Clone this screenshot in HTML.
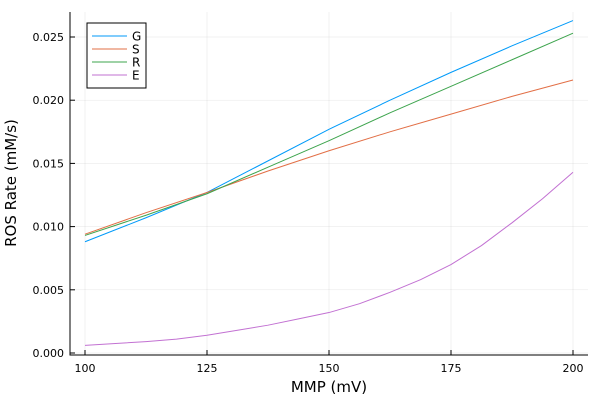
<!DOCTYPE html>
<html><head><meta charset="utf-8"><style>
body{margin:0;background:#fff}
svg text{font-family:"DejaVu Sans","Liberation Sans",sans-serif}
</style></head><body>
<svg id="c" width="600" height="400"></svg>
<script>
const xs=[100,112.5,125,137.5,150,162.5,175,187.5,200];
const gVals=[0.0088,0.0107,0.0127,0.0152,0.0177,0.0200,0.0222,0.0243,0.0263];
const sVals=[0.0094,0.0111,0.0127,0.0144,0.0160,0.0175,0.0189,0.0203,0.0216];
const rVals=[0.0093,0.0109,0.0126,0.0147,0.0168,0.0190,0.0211,0.0232,0.0253];
const eXs=[100,106.25,112.5,118.75,125,131.25,137.5,143.75,150,156.25,162.5,168.75,175,181.25,187.5,193.75,200];
const eVals=[0.0006,0.00075,0.0009,0.0011,0.0014,0.0018,0.0022,0.0027,0.0032,0.0039,0.0048,0.0058,0.0070,0.0085,0.0103,0.0122,0.0143];
const xTicks=[100,125,150,175,200];
const yTicks=[0,0.005,0.010,0.015,0.020,0.025];
const yLabels=["0.000","0.005","0.010","0.015","0.020","0.025"];
const names=["G","S","R","E"];
const colors=["#009af9","#e26f46","#3da44d","#c271d2"];
const NS="http://www.w3.org/2000/svg";
const svg=document.getElementById('c');
const X=v=>85+(v-100)*(573-85)/100;
const Y=v=>353-v*12640;
function el(t,a,p){const e=document.createElementNS(NS,t);for(const k in a)e.setAttribute(k,a[k]);(p||svg).appendChild(e);return e;}
xTicks.forEach(t=>{
 const g=el('line',{x1:X(t),x2:X(t),y1:12,y2:355,stroke:'#000','stroke-opacity':0.1,'stroke-width':0.5});
 
 
 el('line',{x1:X(t),x2:X(t),y1:355,y2:350,stroke:'#000'});
 const tx=el('text',{x:X(t),y:372,'text-anchor':'middle','font-size':11});tx.textContent=t;
 
 
});
yTicks.forEach((t,i)=>{
 const g=el('line',{x1:70,x2:588,y1:Y(t),y2:Y(t),stroke:'#000','stroke-opacity':0.1,'stroke-width':0.5});
 
 
 el('line',{x1:70,x2:75,y1:Y(t),y2:Y(t),stroke:'#000'});
 const tx=el('text',{x:64,y:Y(t)+4,'text-anchor':'end','font-size':11});tx.textContent=yLabels[i];
 
 
});
const ax=el('path',{d:'M70 12V355H588',fill:'none',stroke:'#000','stroke-width':1});


[[xs,gVals],[xs,sVals],[xs,rVals],[eXs,eVals]].forEach(([xx,vals],i)=>{
 const p=el('polyline',{points:xx.map((x,j)=>X(x)+','+Y(vals[j])).join(' '),fill:'none',stroke:colors[i],'stroke-width':1,'stroke-linejoin':'round'});
 
 
});
const xt=el('text',{x:329,y:392,'text-anchor':'middle','font-size':15});xt.textContent='MMP (mV)';


const yt=el('text',{x:0,y:0,'text-anchor':'middle','font-size':15,transform:'translate(16,183) rotate(-90)'});yt.textContent='ROS Rate (mM/s)';


const lg=el('rect',{x:87,y:23,width:59,height:65,fill:'#fff',stroke:'#000','stroke-width':1});


names.forEach((n,i)=>{
 const y=36+i*13;
 el('line',{x1:92,x2:127,y1:y,y2:y,stroke:colors[i],'stroke-width':1});
 const t=el('text',{x:132,y:y+4.5,'font-size':12});t.textContent=n;
 
 
});
</script>
</body></html>
